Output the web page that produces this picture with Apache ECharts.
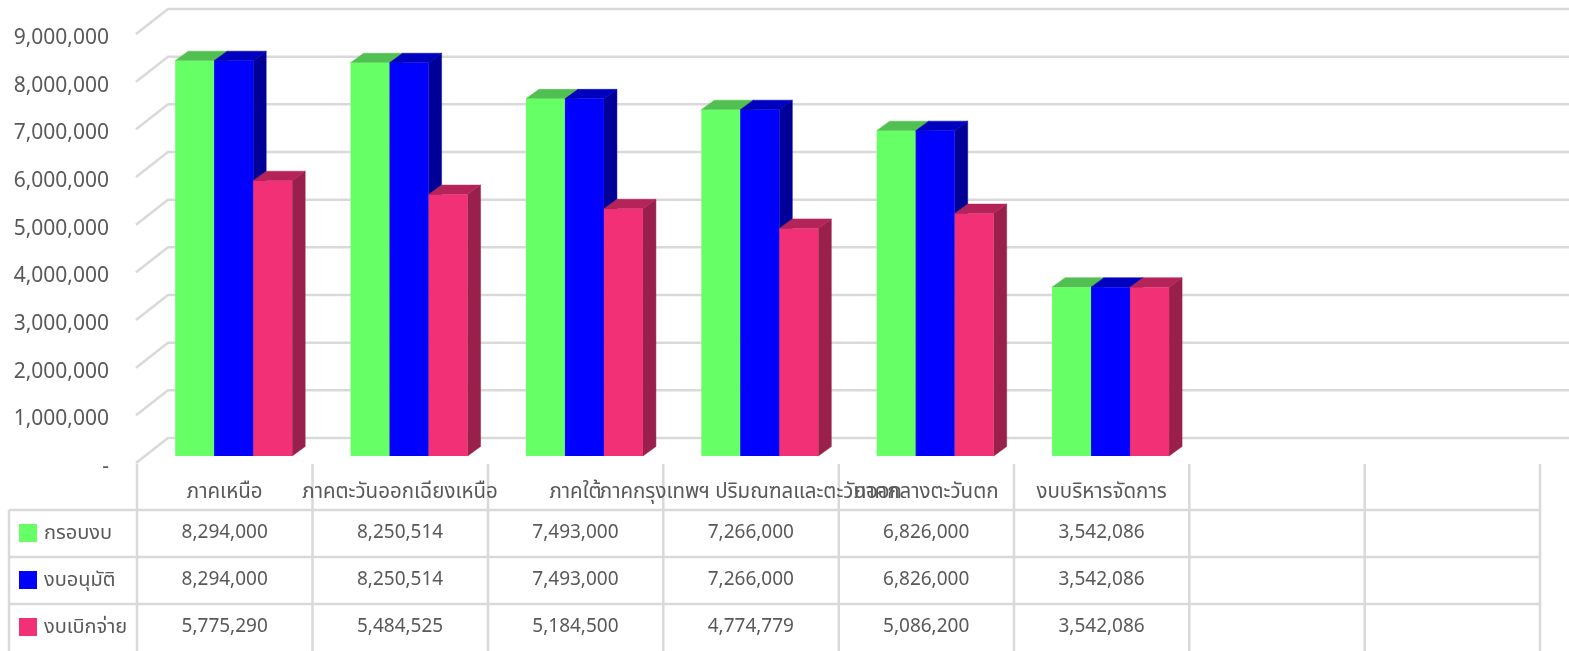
<!DOCTYPE html>
<html><head><meta charset="utf-8">
<style>html,body{margin:0;padding:0;background:#fff}#c{width:1569px;height:651px}</style>
<script src="https://cdn.jsdelivr.net/npm/echarts@6/dist/echarts.min.js"></script>
</head><body><div id="c"></div>
<script>
var categories = ['ภาคเหนือ','ภาคตะวันออกเฉียงเหนือ','ภาคใต้','ภาคกรุงเทพฯ ปริมณฑลและตะวันออก','ภาคกลางตะวันตก','งบบริหารจัดการ','',''];
var frameBudget = [8294000,8250514,7493000,7266000,6826000,3542086];
var approved = [8294000,8250514,7493000,7266000,6826000,3542086];
var disbursed = [5775290,5484525,5184500,4774779,5086200,3542086];
var tickValues = [0,1000000,2000000,3000000,4000000,5000000,6000000,7000000,8000000,9000000];
var seriesNames = ['กรอบงบ','งบอนุมัติ','งบเบิกจ่าย'];

var FONT = "'Noto Sans','Noto Sans Thai',Tahoma,sans-serif";
var TEXT = '#595959', LINE = '#d9d9d9';
var faces = [
  {front:'#66FF66', top:'#52BF52', side:'#3f9f3f'},
  {front:'#0000FF', top:'#0000BF', side:'#000099'},
  {front:'#F23075', top:'#B52458', side:'#99204A'}
];
var rowY = [533,580,627];
var BAR = 39, DX = 13, DY = 9.5, SHIFT = 9;

function barSeries(idx, values){
  return {
    name: seriesNames[idx], type:'custom', coordinateSystem:'cartesian2d', z:3,
    itemStyle:{color:faces[idx].front},
    data: values.map(function(v,i){return [i,v];}),
    encode:{x:0,y:1},
    renderItem:function(p,api){
      var i=api.value(0), v=api.value(1);
      var t=api.coord([i,v]), b=api.coord([i,0]);
      var x=t[0]+SHIFT+(idx-1.5)*BAR, w=BAR, f=faces[idx];
      function poly(pts,c){return {type:'polygon',shape:{points:pts},style:{fill:c,stroke:c,lineWidth:0.5}};}
      return {type:'group',children:[
        poly([[x+w,t[1]],[x+w+DX,t[1]-DY],[x+w+DX,b[1]-DY],[x+w,b[1]]],f.side),
        poly([[x,t[1]],[x+DX,t[1]-DY],[x+w+DX,t[1]-DY],[x+w,t[1]]],f.top),
        {type:'rect',shape:{x:x,y:t[1],width:w,height:b[1]-t[1]},style:{fill:f.front}},
        {type:'text',x:t[0],y:rowY[idx],style:{text:v.toLocaleString('en-US'),fill:TEXT,font:'19px '+FONT,textAlign:'center',textVerticalAlign:'middle'}}
      ]};
    }
  };
}
var wall = {
  type:'custom', coordinateSystem:'cartesian2d', z:1, silent:true,
  data: tickValues.map(function(v){return [0,v];}),
  encode:{x:0,y:1},
  renderItem:function(p,api){
    var y=api.coord([0,api.value(1)])[1];
    return {type:'polyline',shape:{points:[[136,y+7],[168,y-18],[1569,y-18]]},style:{fill:null,stroke:LINE,lineWidth:2.5}};
  }
};
var tableLines = [];
[137,312.5,488,663.3,838.8,1014,1189.3,1364.7,1540].forEach(function(x){
  tableLines.push({type:'line',shape:{x1:x,y1:464,x2:x,y2:651},style:{stroke:LINE,lineWidth:2.5}});
});
tableLines.push({type:'line',shape:{x1:9,y1:510,x2:9,y2:651},style:{stroke:LINE,lineWidth:2.5}});
[510,557,604].forEach(function(y){
  tableLines.push({type:'line',shape:{x1:9,y1:y,x2:1541,y2:y},style:{stroke:LINE,lineWidth:2.5}});
});
var chart = echarts.init(document.getElementById('c'),null,{renderer:'canvas'});
chart.setOption({
  animation:false,
  backgroundColor:'#fff',
  tooltip:{show:false},
  grid:{left:137,width:1403,top:27,height:429},
  legend:{
    orient:'vertical',left:19,top:522,padding:0,itemWidth:18,itemHeight:18,itemGap:25,icon:'rect',
    data:seriesNames,selectedMode:false,
    textStyle:{color:TEXT,fontSize:20,fontFamily:FONT,padding:[0,0,4,2],lineHeight:18}
  },
  xAxis:{type:'category',data:categories,axisLine:{show:false},axisTick:{show:false},splitLine:{show:false},
    axisLabel:{interval:0,color:TEXT,fontSize:20.5,fontFamily:FONT,margin:26,hideOverlap:false}},
  yAxis:{type:'value',min:0,max:9000000,interval:1000000,axisLine:{show:false},axisTick:{show:false},splitLine:{show:false},
    axisLabel:{color:TEXT,fontSize:21,fontFamily:FONT,margin:28,verticalAlign:'top',lineHeight:22,
      formatter:function(v){return v===0?'-':v.toLocaleString('en-US');}}},
  graphic:{elements:tableLines},
  series:[wall,barSeries(0,frameBudget),barSeries(1,approved),barSeries(2,disbursed)]
});
</script></body></html>
